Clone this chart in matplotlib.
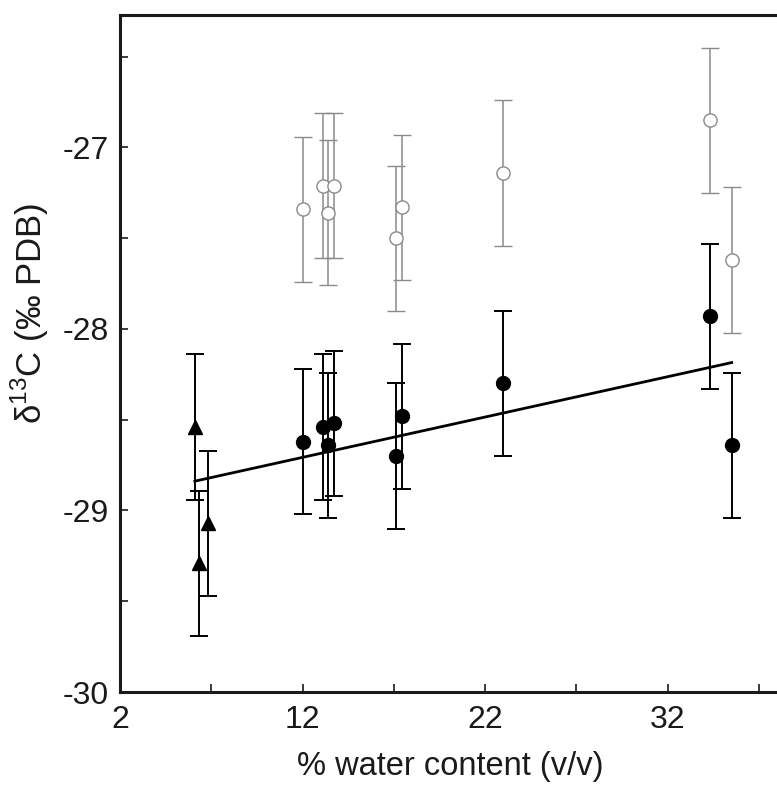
import matplotlib
matplotlib.use('Agg')
import matplotlib.pyplot as plt
import numpy as np
from matplotlib.ticker import MultipleLocator

plt.rcParams['font.family'] = ['Liberation Sans', 'DejaVu Sans']
plt.rcParams['mathtext.fontset'] = 'custom'
plt.rcParams['mathtext.rm'] = 'Liberation Sans'
plt.rcParams['axes.unicode_minus'] = False

# open circles (grey)
open_x = [12.0, 13.1, 13.7, 13.4, 17.1, 17.45, 23.0, 34.3, 35.5]
open_y = [-27.34, -27.21, -27.21, -27.36, -27.50, -27.33, -27.14, -26.85, -27.62]
open_err = [0.4, 0.4, 0.4, 0.4, 0.4, 0.4, 0.4, 0.4, 0.4]

# filled circles (black)
fill_x = [12.0, 13.1, 13.7, 13.4, 17.1, 17.45, 23.0, 34.3, 35.5]
fill_y = [-28.62, -28.54, -28.52, -28.64, -28.70, -28.48, -28.30, -27.93, -28.64]
fill_err = [0.4, 0.4, 0.4, 0.4, 0.4, 0.4, 0.4, 0.4, 0.4]

# filled triangles
tri_x = [6.1, 6.3, 6.8]
tri_y = [-28.54, -29.29, -29.07]
tri_err = [0.4, 0.4, 0.4]

INK = '#1a1a1a'
GREY = '#8a8a8a'

fig = plt.figure(figsize=(7.77, 7.87), dpi=100)
ax = fig.add_axes([120 / 777, 95 / 787, 661 / 777, 677 / 787])

ax.errorbar(open_x, open_y, yerr=open_err, fmt='o', ms=9.5, mfc='white', mec=GREY,
            mew=1.0, ecolor=GREY, elinewidth=1.1, capsize=6.5, capthick=1.1, zorder=3)
ax.errorbar(fill_x, fill_y, yerr=fill_err, fmt='o', ms=10, mfc='black', mec='black',
            ecolor='black', elinewidth=1.4, capsize=6.5, capthick=1.4, zorder=4)
ax.errorbar(tri_x, tri_y, yerr=tri_err, fmt='^', ms=10, mfc='black', mec='black',
            ecolor='black', elinewidth=1.4, capsize=6.5, capthick=1.4, zorder=4)

# regression through the filled symbols
reg_x = np.array(tri_x + fill_x)
reg_y = np.array(tri_y + fill_y)
slope, icpt = np.polyfit(reg_x, reg_y, 1)
xs = np.array([reg_x.min(), reg_x.max()])
ax.plot(xs, slope * xs + icpt, color='black', lw=2.0, zorder=5)

ax.set_xlim(2, 38.2)
ax.set_ylim(-30, -26.27)
ax.set_xticks([2, 12, 22, 32])
ax.set_xticks([7, 17, 27, 37], minor=True)
ax.yaxis.set_major_locator(MultipleLocator(1))
ax.yaxis.set_minor_locator(MultipleLocator(0.5))
ax.tick_params(which='both', direction='in', length=6, width=1.2, colors=INK,
               labelsize=23)
ax.tick_params(axis='x', pad=9)
ax.tick_params(axis='y', pad=8)
for s in ax.spines.values():
    s.set_linewidth(2.2)
    s.set_color(INK)

ax.set_xlabel('% water content (v/v)', fontsize=23.5, color=INK, labelpad=12)
ax.set_ylabel('δ$^{13}$C (‰ PDB)', fontsize=25, color=INK)
ax.yaxis.set_label_coords(-0.105, 0.56)

fig.savefig('out.png', dpi=100)
